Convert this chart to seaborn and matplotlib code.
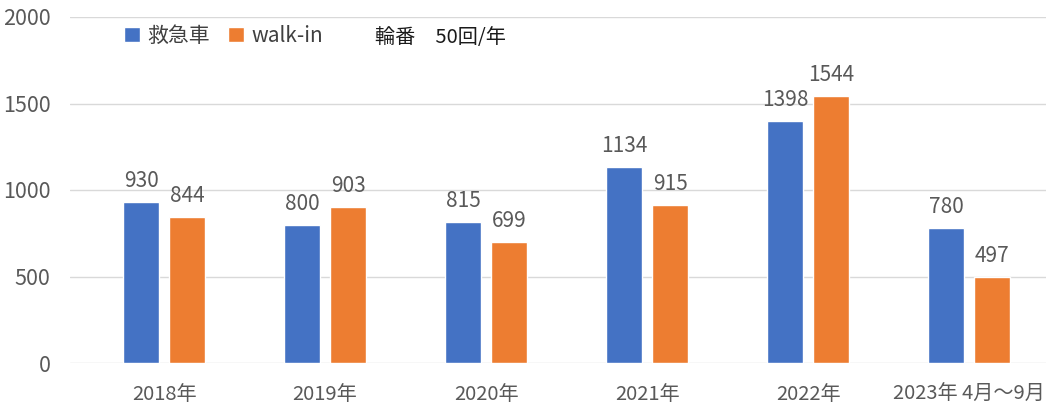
import matplotlib
matplotlib.use("Agg")
import matplotlib.pyplot as plt
import pandas as pd
import seaborn as sns

years = ["2018年", "2019年", "2020年", "2021年", "2022年", "2023年 4月～9月"]
ambulance = [930, 800, 815, 1134, 1398, 780]
walk_in = [844, 903, 699, 915, 1544, 497]
series = ["救急車", "walk-in"]
colors = ["#4472C4", "#ED7D31"]

df = pd.DataFrame({
    "year": years * 2,
    "count": ambulance + walk_in,
    "kind": [series[0]] * len(years) + [series[1]] * len(years),
})

sns.set_theme(style="white")
plt.rcParams["font.family"] = ["Noto Sans CJK JP", "DejaVu Sans"]
gray = "#595959"

fig = plt.figure(figsize=(10.46, 4.09), dpi=100)
ax = fig.add_axes([70 / 1046, 46 / 409, 976 / 1046, 346 / 409])

sns.barplot(data=df, x="year", y="count", hue="kind", palette=colors,
            saturation=1, width=0.571, gap=0.217, ax=ax, zorder=3)

for cont in ax.containers:
    ax.bar_label(cont, padding=7, fontsize=15, color=gray)

ax.set_xlim(-0.584, 5.478)
ax.set_ylim(0, 2000)
ax.set_yticks([0, 500, 1000, 1500, 2000])
ax.yaxis.grid(True, color="#D9D9D9", linewidth=1, zorder=0)
ax.set_axisbelow(True)
for s in ax.spines.values():
    s.set_visible(False)
ax.set_xlabel("")
ax.set_ylabel("")
ax.tick_params(axis="y", labelsize=15.5, colors=gray, length=0, pad=14)
ax.tick_params(axis="x", labelsize=14.5, colors=gray, length=0, pad=15)

handles, labels = ax.get_legend_handles_labels()
ax.legend(handles, labels, ncol=2, frameon=False, fontsize=15,
          loc="center left", bbox_to_anchor=(0.047, 1 - 19 / 346),
          handlelength=0.75, handleheight=0.75, handletextpad=0.35,
          columnspacing=0.9, labelcolor="#404040", borderaxespad=0)
fig.text(375 / 1046, 1 - 37 / 409, "輪番　50回/年", fontsize=14.5,
         color="#1a1a1a", va="center", ha="left")

fig.savefig("out.png", dpi=100)
